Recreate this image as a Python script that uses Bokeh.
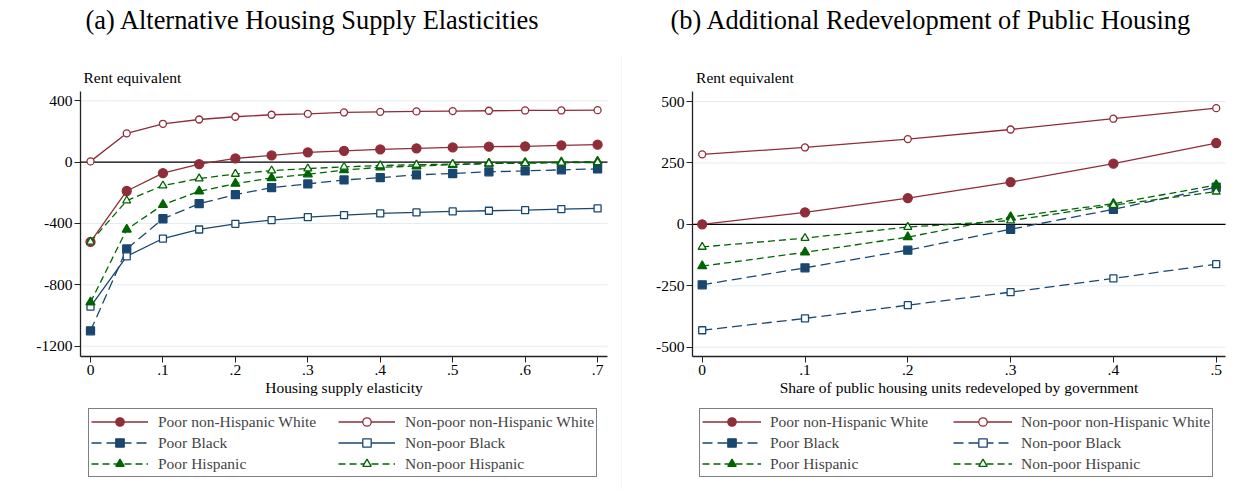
from bokeh.plotting import figure
from bokeh.models import Legend, LegendItem, Label, FixedTicker, Range1d, Spacer
from bokeh.layouts import row, column
from bokeh.embed import file_html
from bokeh.resources import INLINE

# ---------------- data ----------------
elasticity = [0, .05, .1, .15, .2, .25, .3, .35, .4, .45, .5, .55, .6, .65, .7]
a_poor_white = [-520, -188, -72, -13, 24, 44, 64, 74, 83, 90, 96, 101, 103, 110, 114]
a_nonpoor_white = [5, 188, 250, 278, 296, 309, 315, 324, 328, 331, 333, 335, 337, 337, 339]
a_poor_black = [-1100, -566, -369, -271, -212, -166, -142, -116, -101, -83, -74, -63, -57, -50, -44]
a_nonpoor_black = [-942, -614, -498, -439, -402, -378, -358, -345, -334, -328, -321, -317, -313, -306, -302]
a_poor_hisp = [-914, -439, -278, -190, -140, -103, -79, -52, -33, -26, -17, -9, -4, 0, 4]
a_nonpoor_hisp = [-520, -251, -153, -107, -77, -55, -42, -31, -22, -17, -13, -9, -7, -4, -2]

share = [0, .1, .2, .3, .4, .5]
b_poor_white = [0, 49, 107, 172, 247, 331]
b_nonpoor_white = [285, 313, 347, 386, 430, 473]
b_poor_black = [-246, -177, -105, -20, 61, 151]
b_nonpoor_black = [-431, -383, -329, -276, -220, -162]
b_poor_hisp = [-170, -114, -52, 30, 84, 160]
b_nonpoor_hisp = [-92, -56, -11, 15, 78, 133]

labels = ["Poor non-Hispanic White", "Non-poor non-Hispanic White",
          "Poor Black", "Non-poor Black", "Poor Hispanic", "Non-poor Hispanic"]

a_yticks = [400, 0, -400, -800, -1200]
a_xticks = [0, .1, .2, .3, .4, .5, .6, .7]
b_yticks = [500, 250, 0, -250, -500]
b_xticks = [0, .1, .2, .3, .4, .5]

RED = "#8f2d38"
BLUE = "#1a476f"
GREEN = "#006400"
FONT = "Liberation Serif"
FS = "15.5px"
H = 490


def xlab(v):
    return "0" if v == 0 else ("%.1f" % v).lstrip("0")


def make_panel(width, x0_px, xppu, y0_px, yppu, area, title, title_px, re_px,
               legend_px, legend_geom, xname, xs, series, styles, xticks, yticks):
    """x0_px/y0_px: local pixel of data zero; xppu/yppu: pixels per data unit.
    area: (left, right, top, bottom) local pixels of the plotting region."""
    def dx(px):
        return (px - x0_px) / xppu

    def dy(py):
        return (y0_px - py) / yppu

    xr = Range1d(dx(0), dx(width))
    yr = Range1d(dy(H), dy(0))
    left, right, top, bottom = area
    xa, xb = dx(left), dx(right)
    ya, yb = dy(bottom), dy(top)

    p = figure(width=width, height=H, output_backend="svg", toolbar_location=None,
               x_range=xr, y_range=yr, min_border=0,
               outline_line_color=None, background_fill_color="white",
               border_fill_color="white")
    p.xgrid.visible = False
    p.ygrid.visible = False

    for ax, ticks in ((p.xaxis[0], xticks), (p.yaxis[0], yticks)):
        ax.ticker = FixedTicker(ticks=ticks)
        ax.axis_line_color = "#222222"
        ax.axis_line_width = 1.3
        ax.major_tick_line_color = "#222222"
        ax.major_tick_out = 6
        ax.major_tick_in = 0
        ax.minor_tick_line_color = None
        ax.major_label_text_font = FONT
        ax.major_label_text_font_size = FS
        ax.major_label_text_color = "black"
    p.yaxis.fixed_location = xa
    p.yaxis.bounds = (ya, yb)
    p.xaxis.fixed_location = ya
    p.xaxis.bounds = (xa, xb)
    p.xaxis.major_label_overrides = {t: xlab(t) for t in xticks}
    p.yaxis.major_label_overrides = {t: str(t) for t in yticks}
    p.xaxis.major_label_standoff = 2
    p.yaxis.major_label_standoff = 2
    p.xaxis.axis_label = xname
    p.xaxis.axis_label_text_font = FONT
    p.xaxis.axis_label_text_font_size = FS
    p.xaxis.axis_label_text_font_style = "normal"
    p.xaxis.axis_label_text_color = "black"
    p.xaxis.axis_label_standoff = 1

    # horizontal grid lines at the y ticks, limited to the plot region
    p.segment(x0=[xa] * len(yticks), y0=yticks, x1=[xb] * len(yticks), y1=yticks,
              line_color="#e4edf0", line_width=1)
    p.segment(x0=[xa], y0=[0], x1=[xb], y1=[0], line_color="black", line_width=1.3)

    items = []
    for ys, lab, (color, dash, marker, filled, msize) in zip(series, labels, styles):
        lr = p.line(xs, ys, line_color=color, line_width=1.3, line_dash=dash)
        sr = p.scatter(xs, ys, marker=marker, size=msize,
                       fill_color=color if filled else "white",
                       line_color=color, line_width=1.3)
        items.append(LegendItem(label=lab, renderers=[lr, sr]))

    gw, ls, lw = legend_geom
    leg = Legend(items=items, orientation="horizontal", ncols=2,
                 location=(legend_px[0], H - legend_px[1]),
                 border_line_color="black", border_line_width=1,
                 background_fill_color="white", background_fill_alpha=1,
                 label_text_font=FONT, label_text_font_size=FS,
                 glyph_width=gw, glyph_height=21, label_height=21,
                 label_standoff=ls, label_width=lw, padding=2, spacing=0, margin=0)
    p.add_layout(leg)

    p.add_layout(Label(x=dx(re_px[0]), y=dy(re_px[1]), text="Rent equivalent",
                       text_font=FONT, text_font_size=FS,
                       text_align="left", text_baseline="alphabetic", text_color="black"))
    p.add_layout(Label(x=dx(title_px[0]), y=dy(title_px[1]), text=title,
                       text_font=FONT, text_font_size="26.4px",
                       text_align="left", text_baseline="alphabetic", text_color="black"))
    return p


styles_a = [
    (RED, "solid", "circle", True, 9),
    (RED, "solid", "circle", False, 7),
    (BLUE, "10 5", "square", True, 8),
    (BLUE, "solid", "square", False, 7),
    (GREEN, "7 4", "triangle", True, 9),
    (GREEN, "7 4", "triangle", False, 8),
]
styles_b = [
    (RED, "solid", "circle", True, 9),
    (RED, "solid", "circle", False, 7),
    (BLUE, "10 5", "square", True, 8),
    (BLUE, "10 5", "square", False, 7),
    (GREEN, "7 4", "triangle", True, 9),
    (GREEN, "7 4", "triangle", False, 8),
]

# left panel occupies page x 0..621, right panel 622..1230
p1 = make_panel(621, 90, 724.4, 161.65, 0.15337, (80, 607, 91, 356),
                "(a) Alternative Housing Supply Elasticities", (85, 19.7), (83, 76.5),
                (88, 477), (57, 10, 180), "Housing supply elasticity", elasticity,
                [a_poor_white, a_nonpoor_white, a_poor_black, a_nonpoor_black, a_poor_hisp, a_nonpoor_hisp],
                styles_a, a_xticks, a_yticks)
p2 = make_panel(608, 79.7, 1028.0, 223.85, 0.2457, (70, 603, 91, 356),
                "(b) Additional Redevelopment of Public Housing", (48, 19.7), (73.6, 76.5),
                (77, 477), (59, 9, 183), "Share of public housing units redeveloped by government", share,
                [b_poor_white, b_nonpoor_white, b_poor_black, b_nonpoor_black, b_poor_hisp, b_nonpoor_hisp],
                styles_b, b_xticks, b_yticks)

div = figure(width=1, height=H - 54, output_backend="svg", toolbar_location=None,
             min_border=0, x_axis_type=None, y_axis_type=None, outline_line_color=None,
             background_fill_color="#ececec", border_fill_color="#ececec")
div.xgrid.visible = False
div.ygrid.visible = False

layout = row(p1, column(Spacer(width=1, height=54), div, spacing=0), p2, spacing=0)

open("out.html", "w").write(file_html(layout, INLINE))
